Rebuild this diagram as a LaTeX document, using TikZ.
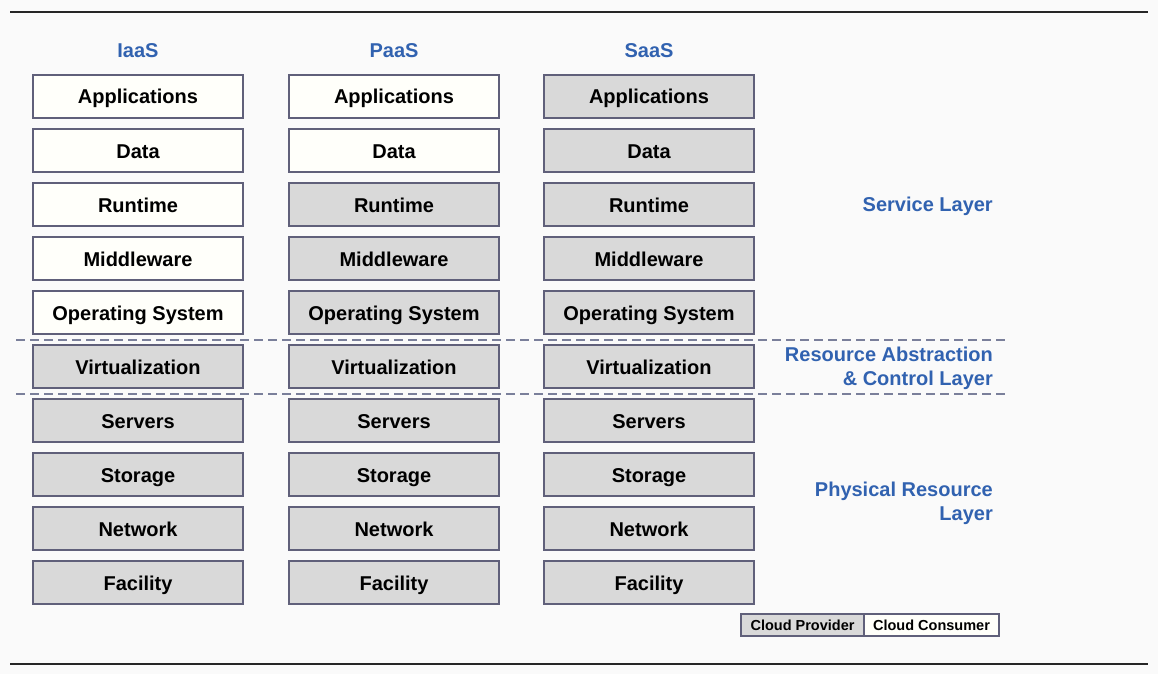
\documentclass[tikz,border=0pt]{standalone}
\usepackage{fontspec}
\setmainfont{Liberation Sans}
\definecolor{bgc}{HTML}{FAFAFA}
\definecolor{prov}{HTML}{D9D9D9}
\definecolor{cons}{HTML}{FFFFFA}
\definecolor{bord}{HTML}{60607A}
\definecolor{lbl}{HTML}{3162B0}
\definecolor{dsh}{HTML}{7A7F9A}
\begin{document}
\begin{tikzpicture}[x=1pt,y=-1pt,
  layerbox/.style={draw=bord,line width=1.3pt,minimum width=210pt,minimum height=43pt,inner sep=0pt,text height=15pt,text depth=0pt,font=\fontsize{20}{23}\selectfont\bfseries,text=black},
  provbox/.style={layerbox,fill=prov},
  consbox/.style={layerbox,fill=cons},
  colhead/.style={font=\fontsize{20}{23}\selectfont\bfseries,text=lbl,text height=15pt,text depth=0pt,inner sep=0pt},
  layerlbl/.style={font=\fontsize{20}{24}\selectfont\bfseries,text=lbl,align=right,anchor=east,inner sep=0pt},
  legbox/.style={draw=bord,line width=1.2pt,minimum height=22pt,inner sep=0pt,text height=11pt,text depth=0pt,font=\fontsize{14.5}{16}\selectfont\bfseries,text=black},
  sep/.style={dsh,line width=1.2pt,dash pattern=on 9pt off 5pt},
  rule/.style={black!85,line width=1.4pt}]
\fill[bgc] (0,0) rectangle (1158,674);
\useasboundingbox (0,0) rectangle (1158,674);
\coordinate (tl) at (10,12); \coordinate (tr) at (1148,12);
\coordinate (bl) at (10,664); \coordinate (br) at (1148,664);
\draw[rule] (tl) -- (tr);
\draw[rule] (bl) -- (br);
% column headers
\node[colhead] (hI) at (138,50) {IaaS};
\node[colhead] (hP) at (394,50) {PaaS};
\node[colhead] (hS) at (649,50) {SaaS};
% boxes
\foreach \t [count=\r from 0] in {Applications,Data,Runtime,Middleware,Operating System,Virtualization,Servers,Storage,Network,Facility}{
  \pgfmathsetmacro{\yy}{96.5+54*\r}
  \ifnum\r<5 \def\stI{consbox}\else\def\stI{provbox}\fi
  \ifnum\r<2 \def\stP{consbox}\else\def\stP{provbox}\fi
  \node[\stI] (I\r) at (138,\yy) {\t};
  \node[\stP] (P\r) at (394,\yy) {\t};
  \node[provbox] (S\r) at (649,\yy) {\t};
}
% separators
\coordinate (d1a) at (16,340); \coordinate (d1b) at (1008,340);
\coordinate (d2a) at (16,394); \coordinate (d2b) at (1008,394);
\draw[sep] (d1a) -- (d1b);
\draw[sep] (d2a) -- (d2b);
% layer labels
\node[layerlbl] (lsv) at (993,206) {Service Layer};
\node[layerlbl] (lra) at (993,368) {Resource Abstraction\\\& Control Layer};
\node[layerlbl] (lph) at (993,503) {Physical Resource\\Layer};
% legend
\node[legbox,fill=prov,minimum width=123pt] (lgp) at (802.5,625) {Cloud Provider};
\node[legbox,fill=cons,minimum width=135pt] (lgc) at (931.5,625) {Cloud Consumer};
\end{tikzpicture}
\end{document}
